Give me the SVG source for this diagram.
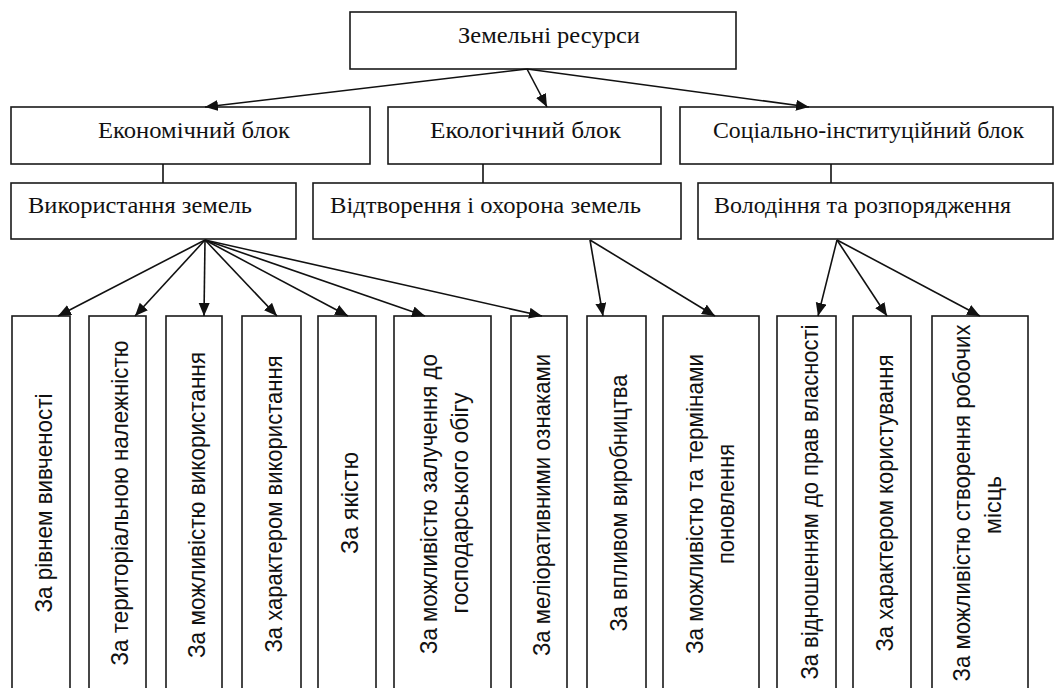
<svg xmlns="http://www.w3.org/2000/svg" width="1062" height="688" viewBox="0 0 1062 688">
<style>
.box{fill:#fff;stroke:#1a1a1a;stroke-width:1.6}
.h{font-family:"Liberation Serif","Times New Roman",serif;font-size:23.5px;fill:#111}
.v{font-family:"Liberation Sans",Arial,sans-serif;font-size:24.5px;fill:#111;text-anchor:middle}
.ln{stroke:#111;stroke-width:1.6;fill:none}
.ar{stroke:#111;stroke-width:1.6;fill:none;marker-end:url(#ah)}
</style>
<defs>
<marker id="ah" markerUnits="userSpaceOnUse" markerWidth="14" markerHeight="12" refX="13" refY="5.5" orient="auto">
<path d="M0,0 L13,5.5 L0,11 z" fill="#111"/>
</marker>
</defs>
<rect width="1062" height="688" fill="#fff"/>

<g id="n-root"><rect class="box" x="350" y="12" width="386" height="57"/><text class="h" x="458" y="43" textLength="182" lengthAdjust="spacingAndGlyphs">Земельні ресурси</text></g>

<g id="n-econ"><rect class="box" x="11" y="107" width="359" height="57"/><text class="h" x="98" y="138" textLength="192" lengthAdjust="spacingAndGlyphs">Економічний блок</text></g>
<g id="n-eco"><rect class="box" x="388" y="107" width="273" height="57"/><text class="h" x="430" y="138" textLength="191" lengthAdjust="spacingAndGlyphs">Екологічний блок</text></g>
<g id="n-soc"><rect class="box" x="680" y="107" width="373" height="57"/><text class="h" x="713" y="138" textLength="311" lengthAdjust="spacingAndGlyphs">Соціально-інституційний блок</text></g>

<g id="n-use"><rect class="box" x="11" y="183" width="285" height="56"/><text class="h" x="28" y="213" textLength="224" lengthAdjust="spacingAndGlyphs">Використання земель</text></g>
<g id="n-rep"><rect class="box" x="313" y="183" width="368" height="56"/><text class="h" x="330" y="213" textLength="311" lengthAdjust="spacingAndGlyphs">Відтворення і охорона земель</text></g>
<g id="n-own"><rect class="box" x="698" y="183" width="355" height="56"/><text class="h" x="714" y="213" textLength="297" lengthAdjust="spacingAndGlyphs">Володіння та розпорядження</text></g>

<g id="n-b1"><rect class="box" x="12" y="316" width="58" height="390"/><text class="v" transform="translate(52,503) rotate(-90)" textLength="219" lengthAdjust="spacingAndGlyphs">За рівнем вивченості</text></g>
<g id="n-b2"><rect class="box" x="89" y="316" width="57" height="390"/><text class="v" transform="translate(128,503) rotate(-90)" textLength="325" lengthAdjust="spacingAndGlyphs">За територіальною належністю</text></g>
<g id="n-b3"><rect class="box" x="166" y="316" width="56" height="390"/><text class="v" transform="translate(205,505) rotate(-90)" textLength="306" lengthAdjust="spacingAndGlyphs">За можливістю використання</text></g>
<g id="n-b4"><rect class="box" x="242" y="316" width="59" height="390"/><text class="v" transform="translate(282,504) rotate(-90)" textLength="297" lengthAdjust="spacingAndGlyphs">За характером використання</text></g>
<g id="n-b5"><rect class="box" x="318" y="316" width="58" height="390"/><text class="v" transform="translate(358,503) rotate(-90)" textLength="102" lengthAdjust="spacingAndGlyphs">За якістю</text></g>
<g id="n-b6"><rect class="box" x="394" y="316" width="97" height="390"/><text class="v" transform="translate(437,504) rotate(-90)" textLength="300" lengthAdjust="spacingAndGlyphs">За можливістю залучення до</text><text class="v" transform="translate(468,503) rotate(-90)" textLength="221" lengthAdjust="spacingAndGlyphs">господарського обігу</text></g>
<g id="n-b7"><rect class="box" x="511" y="316" width="56" height="390"/><text class="v" transform="translate(550,505) rotate(-90)" textLength="302" lengthAdjust="spacingAndGlyphs">За меліоративними ознаками</text></g>
<g id="n-b8"><rect class="box" x="587" y="316" width="59" height="390"/><text class="v" transform="translate(627,503) rotate(-90)" textLength="257" lengthAdjust="spacingAndGlyphs">За впливом виробництва</text></g>
<g id="n-b9"><rect class="box" x="663" y="316" width="96" height="390"/><text class="v" transform="translate(703,504) rotate(-90)" textLength="300" lengthAdjust="spacingAndGlyphs">За можливістю та термінами</text><text class="v" transform="translate(734,504) rotate(-90)" textLength="120" lengthAdjust="spacingAndGlyphs">поновлення</text></g>
<g id="n-b10"><rect class="box" x="777" y="316" width="59" height="390"/><text class="v" transform="translate(818,502) rotate(-90)" textLength="355" lengthAdjust="spacingAndGlyphs">За відношенням до прав власності</text></g>
<g id="n-b11"><rect class="box" x="853" y="316" width="58" height="390"/><text class="v" transform="translate(893,503) rotate(-90)" textLength="297" lengthAdjust="spacingAndGlyphs">За характером користування</text></g>
<g id="n-b12"><rect class="box" x="932" y="316" width="96" height="390"/><text class="v" transform="translate(970,503) rotate(-90)" textLength="357" lengthAdjust="spacingAndGlyphs">За можливістю створення робочих</text><text class="v" transform="translate(1001,505) rotate(-90)" textLength="58" lengthAdjust="spacingAndGlyphs">місць</text></g>

<g id="connectors">
<line class="ar" x1="527" y1="69" x2="205" y2="107"/>
<line class="ar" x1="527" y1="69" x2="547" y2="107"/>
<line class="ar" x1="527" y1="69" x2="809" y2="107"/>
<line class="ln" x1="163" y1="164" x2="163" y2="183"/>
<line class="ln" x1="483" y1="164" x2="483" y2="183"/>
<line class="ln" x1="831" y1="164" x2="831" y2="183"/>
<line class="ar" x1="205" y1="240" x2="58" y2="316"/>
<line class="ar" x1="205" y1="240" x2="135" y2="316"/>
<line class="ar" x1="205" y1="240" x2="204" y2="316"/>
<line class="ar" x1="205" y1="240" x2="277" y2="316"/>
<line class="ar" x1="205" y1="240" x2="348" y2="316"/>
<line class="ar" x1="205" y1="240" x2="425" y2="316"/>
<line class="ar" x1="205" y1="240" x2="542" y2="316"/>
<line class="ar" x1="590" y1="240" x2="603" y2="316"/>
<line class="ar" x1="590" y1="240" x2="715" y2="316"/>
<line class="ar" x1="837" y1="240" x2="818" y2="316"/>
<line class="ar" x1="837" y1="240" x2="887" y2="316"/>
<line class="ar" x1="837" y1="240" x2="980" y2="316"/>
</g>
</svg>
